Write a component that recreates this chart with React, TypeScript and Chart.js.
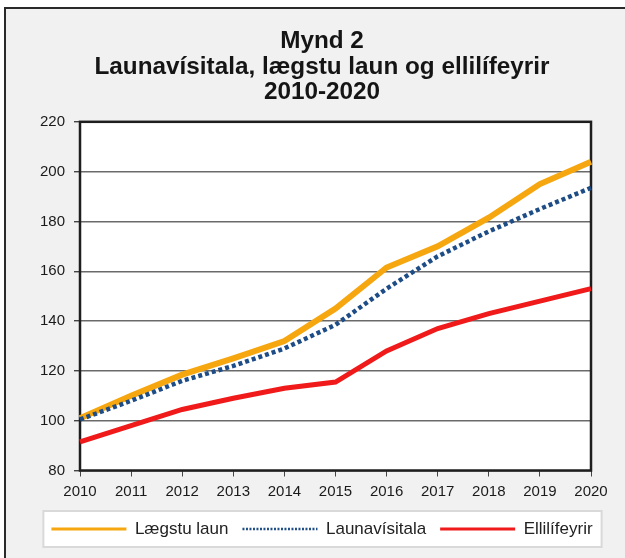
import React, { useEffect, useRef } from 'react';
import { Chart, registerables } from 'chart.js';

Chart.register(...registerables);

const years = ['2010', '2011', '2012', '2013', '2014', '2015', '2016', '2017', '2018', '2019', '2020'];
const laegstuLaun = [101, 110, 118.5, 125, 132, 145, 161.5, 170, 181.5, 195, 204];
const launavisitala = [100.5, 108, 116, 122, 129, 138.5, 153, 166, 176, 185, 193.5];
const ellilifeyrir = [91.5, 98, 104.5, 109, 113, 115.5, 128, 137, 143, 148, 153];
const seriesNames = ['Lægstu laun', 'Launavísitala', 'Ellilífeyrir'];
const titleLines = ['Mynd 2', 'Launavísitala, lægstu laun og ellilífeyrir', '2010-2020'];
const yMin = 80;
const yMax = 220;
const yStep = 20;

const FONT = "'Liberation Sans', Arial, Helvetica, sans-serif";

export default function App() {
  const ref = useRef<HTMLCanvasElement | null>(null);

  useEffect(() => {
    if (!ref.current) return;
    const decor = {
      id: 'decor',
      beforeDraw(chart: any) {
        const ctx = chart.ctx;
        const a = chart.chartArea;
        ctx.save();
        ctx.fillStyle = '#ffffff';
        ctx.fillRect(a.left, a.top, a.right - a.left, a.bottom - a.top);
        const boxes = chart.legend && chart.legend.legendHitBoxes;
        if (boxes && boxes.length) {
          let l = Infinity, r = -Infinity, t = Infinity, b = -Infinity;
          boxes.forEach((h: any) => {
            l = Math.min(l, h.left);
            r = Math.max(r, h.left + h.width);
            t = Math.min(t, h.top);
            b = Math.max(b, h.top + h.height);
          });
          const x0 = l - 8, x1 = r + 9, y0 = t - 9.5, y1 = b + 9.5;
          ctx.fillStyle = '#ffffff';
          ctx.fillRect(x0, y0, x1 - x0, y1 - y0);
          ctx.strokeStyle = '#d9d9d9';
          ctx.lineWidth = 2;
          ctx.strokeRect(x0, y0, x1 - x0, y1 - y0);
        }
        ctx.restore();
      },
      beforeDatasetsDraw(chart: any) {
        const ctx = chart.ctx;
        const a = chart.chartArea;
        ctx.save();
        ctx.strokeStyle = '#1e1e1e';
        ctx.lineWidth = 2.5;
        ctx.strokeRect(a.left, a.top, a.right - a.left, a.bottom - a.top);
        ctx.restore();
      },
    };

    const chart = new Chart(ref.current, {
      type: 'line',
      data: {
        labels: years,
        datasets: [
          {
            label: seriesNames[0],
            data: laegstuLaun,
            borderColor: '#f6a70f',
            backgroundColor: '#f6a70f',
            borderWidth: 6,
            pointRadius: 0,
            tension: 0,
            order: 2,
          },
          {
            label: seriesNames[1],
            data: launavisitala,
            borderColor: '#1d4c86',
            backgroundColor: '#1d4c86',
            borderWidth: 4.5,
            borderDash: [4, 3],
            pointRadius: 0,
            tension: 0,
            order: 1,
          },
          {
            label: seriesNames[2],
            data: ellilifeyrir,
            borderColor: '#f01a1a',
            backgroundColor: '#f01a1a',
            borderWidth: 5,
            pointRadius: 0,
            tension: 0,
            order: 3,
          },
        ],
      },
      options: {
        responsive: false,
        animation: false,
        devicePixelRatio: 1,
        layout: { padding: { left: 0, right: 0, top: 0, bottom: 10.5 } },
        plugins: {
          tooltip: { enabled: false },
          title: {
            display: true,
            text: titleLines,
            color: '#151515',
            font: { family: FONT, size: 24.3, weight: 'bold', lineHeight: 1.04 },
            padding: { top: 29, bottom: 17 },
          },
          legend: {
            position: 'bottom',
            labels: {
              usePointStyle: true,
              pointStyleWidth: 75,
              padding: 14,
              color: '#222222',
              font: { family: FONT, size: 17 },
              generateLabels: (c: any) => {
                const items = (Chart.defaults.plugins.legend.labels as any).generateLabels(c);
                items.sort((p: any, q: any) => p.datasetIndex - q.datasetIndex);
                return items.map((it: any) => ({
                  ...it,
                  pointStyle: 'line',
                  lineWidth: it.datasetIndex === 1 ? 2.5 : 3,
                  lineDash: it.datasetIndex === 1 ? [2, 1.5] : [],
                }));
              },
            },
          },
        },
        scales: {
          x: {
            type: 'category',
            offset: false,
            grid: {
              display: true,
              drawOnChartArea: false,
              drawTicks: true,
              tickLength: 6,
              tickColor: '#444444',
              offset: false,
            },
            border: { display: false },
            ticks: {
              color: '#1a1a1a',
              font: { family: FONT, size: 15 },
              padding: 6,
              maxRotation: 0,
              autoSkip: false,
            },
          },
          y: {
            position: 'left',
            min: yMin,
            max: yMax,
            afterFit: (s: any) => {
              s.width = 74;
            },
            grid: {
              color: '#6a6a6a',
              lineWidth: 1.4,
              tickLength: 6,
              tickColor: '#444444',
            },
            border: { display: false },
            ticks: {
              stepSize: yStep,
              color: '#1a1a1a',
              font: { family: FONT, size: 15 },
              padding: 9,
            },
          },
          yRight: {
            position: 'right',
            display: true,
            min: yMin,
            max: yMax,
            afterFit: (s: any) => {
              s.width = 47;
            },
            grid: { display: false, drawTicks: false },
            border: { display: false },
            ticks: { display: false },
          },
        },
      },
      plugins: [decor],
    } as any);
    return () => chart.destroy();
  }, []);

  return (
    <div style={{ position: 'relative', width: 625, height: 558, overflow: 'hidden', background: '#ffffff' }}>
      <style>{'body{margin:0}'}</style>
      <div
        style={{
          position: 'absolute',
          left: 4,
          top: 7,
          width: 660,
          height: 600,
          background: '#f1f1f1',
          borderTop: '2px solid #2a2a2a',
          borderLeft: '2px solid #2a2a2a',
        }}
      />
      <canvas ref={ref} width={632} height={558} style={{ position: 'absolute', left: 6, top: 0, width: 632, height: 558 }} />
    </div>
  );
}
